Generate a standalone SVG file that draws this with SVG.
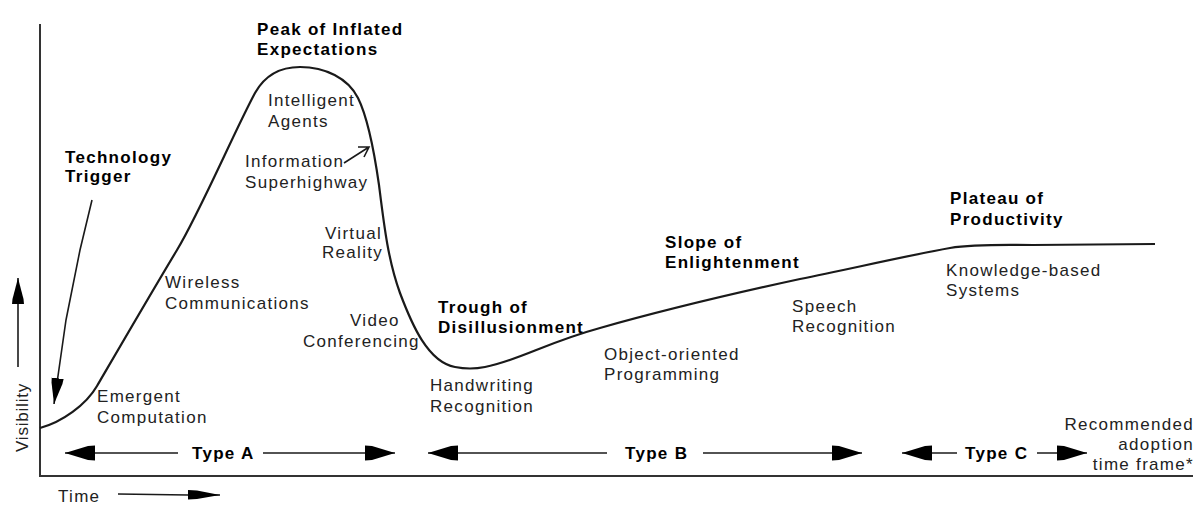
<svg xmlns="http://www.w3.org/2000/svg" width="1199" height="505" viewBox="0 0 1199 505">
  <style>
    .lbl { font-family: "Liberation Sans", Arial, sans-serif; font-size: 17px; fill: #222; letter-spacing: 1.3px; }
    .hd { font-family: "Liberation Sans", Arial, sans-serif; font-size: 17px; font-weight: bold; fill: #000; letter-spacing: 1.3px; }
    .axis { stroke: #333; stroke-width: 2; fill: none; }
    .curve { stroke: #1a1a1a; stroke-width: 2.2; fill: none; stroke-linejoin: round; }
    .conn { stroke: #1a1a1a; stroke-width: 1.6; fill: none; }
  </style>
  <defs>
    <!-- heavy dart used on the adoption-type spans -->
    <marker id="dart" viewBox="0 -8 30 16" markerWidth="30" markerHeight="16" refX="30" refY="0" orient="auto-start-reverse" markerUnits="userSpaceOnUse">
      <path d="M0,-7.5 L7,-7 L30,0 L7,7 L0,7.5 Z" fill="#000"/>
    </marker>
    <!-- smaller dart for the axis hint and the trigger pointer -->
    <marker id="dart-sm" viewBox="0 -7 26 14" markerWidth="26" markerHeight="14" refX="26" refY="0" orient="auto" markerUnits="userSpaceOnUse">
      <path d="M0,-6 L5,-5.5 L26,0 L5,5.5 L0,6 Z" fill="#000"/>
    </marker>
    <!-- flat dart for the time hint -->
    <marker id="dart-thin" viewBox="0 -6 32 12" markerWidth="32" markerHeight="12" refX="32" refY="0" orient="auto" markerUnits="userSpaceOnUse">
      <path d="M0,-5 L9,-4.5 L32,0 L9,4 L0,4.5 Z" fill="#000"/>
    </marker>
  </defs>

  <rect width="1199" height="505" fill="#fff"/>

  <!-- axes -->
  <g id="axes">
    <path class="axis" d="M40,24 L40,476 L1193,476"/>
  </g>

  <!-- hype curve -->
  <g id="hype-curve">
    <path class="curve" d="M40,428 C62,422 86,405 97,386 C125,338 150,295 177,250 C200,212 235,130 255,93 C265,75 280,67 300,67 C325,67 348,78 358,98 C368,118 374,150 379,185 C384,225 388,260 400,293 C412,325 428,362 455,367 C465,369 475,369 485,367 C520,360 545,343 600,328 C660,311 740,292 800,279 C850,269 905,256 950,248 C975,244 1000,245 1033,245 L1155,244"/>
  </g>

  <!-- connectors -->
  <g id="connectors">
    <path class="conn" d="M18,367 L18,278" marker-end="url(#dart-sm)"/>
    <path class="conn" d="M118,494 L188,495 L220,495" marker-end="url(#dart-thin)"/>
    <path class="conn" d="M92,200 L80,250 L66,320 L54,404" marker-end="url(#dart-sm)"/>
    <path class="conn" d="M344,163 L369,147 M358,147 L369,147 L364,157"/>
    <path class="conn" d="M65,453 L178,453" marker-start="url(#dart)"/>
    <path class="conn" d="M263,453 L395,453" marker-end="url(#dart)"/>
    <path class="conn" d="M428,453 L607,453" marker-start="url(#dart)"/>
    <path class="conn" d="M703,453 L862,453" marker-end="url(#dart)"/>
    <path class="conn" d="M902,453 L957,453" marker-start="url(#dart)"/>
    <path class="conn" d="M1037,453 L1087,453" marker-end="url(#dart)"/>
  </g>

  <!-- phase headings -->
  <g id="technology-trigger"><text class="hd" x="65" y="163">Technology</text><text class="hd" x="65" y="182">Trigger</text></g>
  <g id="peak"><text class="hd" x="257" y="35">Peak of Inflated</text><text class="hd" x="257" y="55">Expectations</text></g>
  <g id="trough"><text class="hd" x="438" y="313">Trough of</text><text class="hd" x="438" y="333">Disillusionment</text></g>
  <g id="slope"><text class="hd" x="665" y="248">Slope of</text><text class="hd" x="665" y="268">Enlightenment</text></g>
  <g id="plateau"><text class="hd" x="950" y="204">Plateau of</text><text class="hd" x="950" y="225">Productivity</text></g>

  <!-- technologies on the curve -->
  <g id="intelligent-agents"><text class="lbl" x="268" y="106">Intelligent</text><text class="lbl" x="268" y="127">Agents</text></g>
  <g id="information-superhighway"><text class="lbl" x="245" y="167">Information</text><text class="lbl" x="245" y="188">Superhighway</text></g>
  <g id="virtual-reality"><text class="lbl" x="325" y="239">Virtual</text><text class="lbl" x="322" y="258">Reality</text></g>
  <g id="wireless"><text class="lbl" x="165" y="288">Wireless</text><text class="lbl" x="165" y="309">Communications</text></g>
  <g id="video-conferencing"><text class="lbl" x="350" y="326">Video</text><text class="lbl" x="303" y="347">Conferencing</text></g>
  <g id="emergent-computation"><text class="lbl" x="97" y="402">Emergent</text><text class="lbl" x="97" y="423">Computation</text></g>
  <g id="handwriting"><text class="lbl" x="430" y="391">Handwriting</text><text class="lbl" x="430" y="412">Recognition</text></g>
  <g id="oop"><text class="lbl" x="604" y="360">Object-oriented</text><text class="lbl" x="604" y="380">Programming</text></g>
  <g id="speech"><text class="lbl" x="792" y="312">Speech</text><text class="lbl" x="792" y="332">Recognition</text></g>
  <g id="knowledge-systems"><text class="lbl" x="946" y="276">Knowledge-based</text><text class="lbl" x="946" y="296">Systems</text></g>

  <!-- adoption spans -->
  <g id="type-a"><text class="hd" x="192" y="459">Type A</text></g>
  <g id="type-b"><text class="hd" x="625" y="459">Type B</text></g>
  <g id="type-c"><text class="hd" x="965" y="459">Type C</text></g>
  <g id="adoption-note">
    <text class="lbl" x="1194" y="430" text-anchor="end">Recommended</text>
    <text class="lbl" x="1194" y="450" text-anchor="end">adoption</text>
    <text class="lbl" x="1194" y="470" text-anchor="end">time frame*</text>
  </g>

  <!-- axis titles -->
  <g id="axis-titles">
    <text class="lbl" x="58" y="502">Time</text>
    <text class="lbl" transform="translate(28,452) rotate(-90)" style="letter-spacing:0.8px">Visibility</text>
  </g>
</svg>
